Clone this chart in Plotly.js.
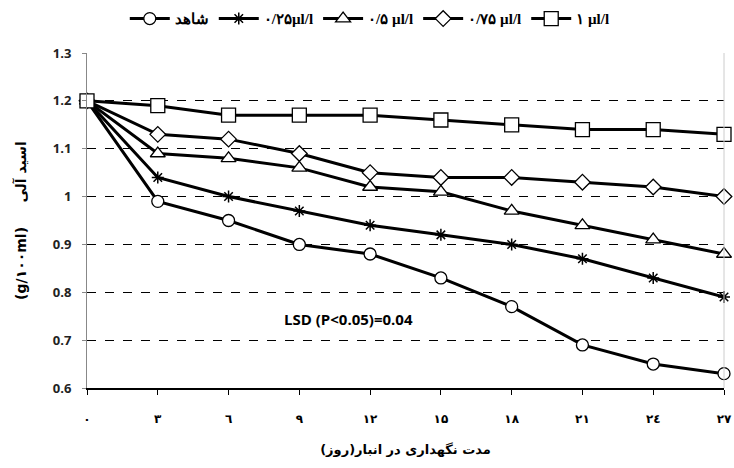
<!DOCTYPE html>
<html>
<head>
<meta charset="utf-8">
<script src="https://cdn.plot.ly/plotly-3.0.1.min.js"></script>
<style>html,body{margin:0;padding:0;background:#fff}#chart{width:734px;height:468px}</style>
</head>
<body>
<div id="chart"></div>
<script>
const days = [0, 3, 6, 9, 12, 15, 18, 21, 24, 27];
const dayLabels = ['۰', '۳', '٦', '۹', '۱۲', '۱۵', '۱۸', '۲۱', '۲٤', '۲۷'];
const seriesNames = ['شاهد', '۰/۲۵µl/l', '۰/۵ µl/l', '۰/۷۵ µl/l', '۱ µl/l'];
const control = [1.20, 0.99, 0.95, 0.90, 0.88, 0.83, 0.77, 0.69, 0.65, 0.63];
const dose025 = [1.20, 1.04, 1.00, 0.97, 0.94, 0.92, 0.90, 0.87, 0.83, 0.79];
const dose05 = [1.20, 1.09, 1.08, 1.06, 1.02, 1.01, 0.97, 0.94, 0.91, 0.88];
const dose075 = [1.20, 1.13, 1.12, 1.09, 1.05, 1.04, 1.04, 1.03, 1.02, 1.00];
const dose1 = [1.20, 1.19, 1.17, 1.17, 1.17, 1.16, 1.15, 1.14, 1.14, 1.13];
const yTicks = [0.6, 0.7, 0.8, 0.9, 1, 1.1, 1.2, 1.3];
const yTickText = ['0.6', '0.7', '0.8', '0.9', '1', '1.1', '1.2', '1.3'];

const values = [control, dose025, dose05, dose075, dose1];
const symbols = ['circle', 'asterisk-open', 'triangle-up', 'diamond', 'square'];
const sizes = [12, 10, 13, 12, 14];

const traces = values.map((v, i) => ({
  x: days, y: v, name: seriesNames[i], type: 'scatter', mode: 'lines+markers',
  line: {color: '#000', width: 3},
  marker: {symbol: symbols[i], size: sizes[i], color: i === 1 ? '#000' : '#fff',
           line: {color: '#000', width: i === 1 ? 1.5 : 1.3}},
  cliponaxis: false
}));

const layout = {
  width: 734, height: 468,
  margin: {l: 87, r: 10, t: 53, b: 80},
  paper_bgcolor: '#fff', plot_bgcolor: '#fff',
  font: {family: 'DejaVu Sans, sans-serif', color: '#000'},
  showlegend: true,
  legend: {orientation: 'h', x: 0.17, xref: 'container', xanchor: 'left',
           y: 0.995, yref: 'container', yanchor: 'top',
           font: {family: 'Liberation Serif, DejaVu Serif, serif', size: 15, color: '#000', weight: 'bold'},
           itemwidth: 40, tracegroupgap: 0, traceorder: 'normal'},
  xaxis: {
    range: [0, 27], tickvals: days, ticktext: dayLabels,
    showgrid: false, zeroline: false,
    showline: true, linecolor: '#000', linewidth: 1.5,
    ticks: 'outside', ticklen: 5, tickcolor: '#000',
    ticklabelstandoff: 14, ticklabeloverflow: 'allow',
    tickfont: {family: 'DejaVu Sans, sans-serif', size: 12, color: '#000', weight: 'bold'},
    title: {text: 'مدت نگهداری در انبار(روز)', standoff: 20,
            font: {family: 'DejaVu Sans, sans-serif', size: 13, color: '#000', weight: 'bold'}}
  },
  yaxis: {
    range: [0.6, 1.3], tickvals: yTicks, ticktext: yTickText,
    showgrid: true, gridcolor: '#000', griddash: 'dash', gridwidth: 1,
    zeroline: false,
    showline: true, linecolor: '#888', linewidth: 1,
    ticks: 'outside', ticklen: 4, tickcolor: '#888',
    ticklabelstandoff: 8,
    tickfont: {family: 'Open Sans, Liberation Sans, sans-serif', size: 13, color: '#222', weight: 'bold'},
    title: {text: '(g/۱۰۰ml)     اسید آلی', standoff: 22,
            font: {family: 'DejaVu Sans, sans-serif', size: 14, color: '#000', weight: 'bold'}}
  },
  shapes: [
    {type: 'line', xref: 'paper', yref: 'paper', x0: 1, x1: 1, y0: 0, y1: 1,
     line: {color: '#ccc', width: 1}}
  ],
  annotations: [
    {x: 11.1, y: 0.745, xref: 'x', yref: 'y', text: 'LSD (P<0.05)=0.04', showarrow: false,
     font: {family: 'Open Sans, Liberation Sans, sans-serif', size: 15, color: '#000', weight: 'bold'}}
  ]
};

Plotly.newPlot('chart', traces, layout, {displayModeBar: false, staticPlot: true});
</script>
</body>
</html>
